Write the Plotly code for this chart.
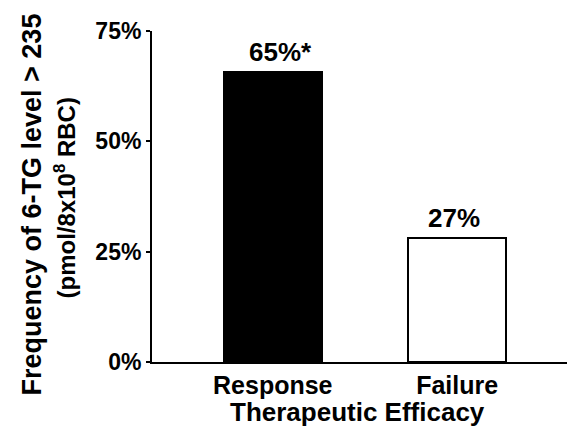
import plotly.graph_objects as go

# Data
categories = ["Response", "Failure"]
values = [65.8, 28.2]          # bar heights (%)
value_labels = ["65%*", "27%"]
y_tick_vals = [0, 25, 50, 75]
y_tick_text = ["0%", "25%", "50%", "75%"]
x_title = "Therapeutic Efficacy"
y_title_line1 = "Frequency of 6-TG level > 235"
y_title_line2 = "(pmol/8x10<sup>8</sup> RBC)"

FONT = "Liberation Sans, Arial, Helvetica, sans-serif"

fig = go.Figure()
fig.add_trace(go.Bar(
    x=[0, 1],
    y=values,
    width=0.53,
    marker=dict(color=["black", "white"], line=dict(color="black", width=2)),
    showlegend=False,
    hoverinfo="skip",
))

label_xshift = [8, -3]
for i, (v, t) in enumerate(zip(values, value_labels)):
    fig.add_annotation(
        x=i, y=v, xref="x", yref="y", text=f"<b>{t}</b>", showarrow=False,
        yanchor="bottom", xanchor="center", xshift=label_xshift[i], yshift=3,
        font=dict(family=FONT, size=26, color="black"),
    )

# Y-axis title as two rotated lines
fig.add_annotation(
    x=0, y=0.5, xref="paper", yref="paper", text=f"<b>{y_title_line1}</b>",
    textangle=-90, showarrow=False, xanchor="center", yanchor="middle",
    xshift=-121, yshift=-8, font=dict(family=FONT, size=27, color="black"),
)
fig.add_annotation(
    x=0, y=0.5, xref="paper", yref="paper", text=f"<b>{y_title_line2}</b>",
    textangle=-90, showarrow=False, xanchor="center", yanchor="middle",
    xshift=-88, yshift=-2, font=dict(family=FONT, size=24, color="black"),
)

# X-axis title
fig.add_annotation(
    x=0.49, y=0, xref="paper", yref="paper", text=f"<b>{x_title}</b>",
    showarrow=False, xanchor="center", yanchor="top", yshift=-33,
    font=dict(family=FONT, size=26, color="black"),
)

# small tick at right end of x axis
fig.add_shape(type="line", xref="paper", yref="paper", x0=1, x1=1, y0=0, y1=-0.015,
              line=dict(color="black", width=2))

# page body has an 8px margin, so the figure is made 8px smaller and margins shifted
fig.update_layout(
    width=567, height=425,
    margin=dict(l=144, r=3, t=23, b=71),
    paper_bgcolor="white", plot_bgcolor="white",
    font=dict(family=FONT, color="black"),
    bargap=0,
)
fig.update_xaxes(
    range=[-0.655, 1.623], automargin=False,
    tickvals=[0, 1], ticktext=[f"<b>{c}</b>" for c in categories],
    tickfont=dict(family=FONT, size=25, color="black"),
    ticks="", showline=True, linecolor="black", linewidth=2,
    showgrid=False, zeroline=False,
)
fig.update_yaxes(
    range=[0, 75], automargin=False,
    tickvals=y_tick_vals, ticktext=[f"<b>{t}</b>" for t in y_tick_text],
    tickfont=dict(family=FONT, size=23, color="black"),
    ticks="outside", ticklen=4, tickwidth=2, tickcolor="black",
    showline=True, linecolor="black", linewidth=2,
    showgrid=False, zeroline=False,
)

fig.write_html("out.html")
